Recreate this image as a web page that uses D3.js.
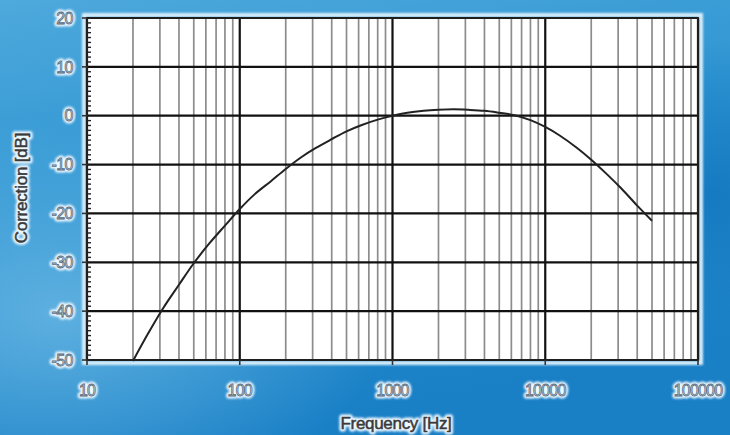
<!DOCTYPE html>
<html>
<head>
<meta charset="utf-8">
<style>
  body { margin: 0; background: #2b91cf; }
  svg { display: block; }
</style>
</head>
<body>
<div id="chart"></div>
<script src="https://cdn.jsdelivr.net/npm/d3@7"></script>
<script>
// frequency response
const freqs = [20, 25, 31.5, 40, 50, 63, 80, 100, 125, 160, 200, 250, 315, 400, 500, 630, 800,
  1000, 1250, 1600, 2000, 2500, 3150, 4000, 5000, 6300, 8000, 10000, 12500, 16000, 20000,
  25000, 31500, 40000, 50000];
const correction = [-50.2, -44.7, -39.4, -34.6, -30.2, -26.2, -22.5, -19.1, -16.1, -13.4, -10.9,
  -8.6, -6.6, -4.8, -3.2, -1.9, -0.8, 0, 0.6, 1.0, 1.2, 1.3, 1.2, 1.0, 0.6, 0.1, -0.9, -2.3,
  -4.1, -6.5, -9.0, -11.8, -14.9, -18.4, -21.5];
const yTicks = [20, 10, 0, -10, -20, -30, -40, -50];
const xTicks = [10, 100, 1000, 10000, 100000];

const W = 730, H = 435;
const pL = 87, pR = 698, pT = 18, pB = 360;

const svg = d3.select("#chart").append("svg")
  .attr("width", W)
  .attr("height", H);

const defs = svg.append("defs");
const bg = defs.append("linearGradient").attr("id", "bg")
  .attr("x1", 0).attr("y1", 0).attr("x2", 0.3).attr("y2", 1);
bg.append("stop").attr("offset", "0%").attr("stop-color", "#4ea9dc");
bg.append("stop").attr("offset", "45%").attr("stop-color", "#2f95d2");
bg.append("stop").attr("offset", "100%").attr("stop-color", "#1a80c6");
const spot = defs.append("radialGradient").attr("id", "spot")
  .attr("cx", 0.08).attr("cy", 0.72).attr("r", 0.45);
spot.append("stop").attr("offset", "0%").attr("stop-color", "#70bce6").attr("stop-opacity", 0.75);
spot.append("stop").attr("offset", "100%").attr("stop-color", "#70bce6").attr("stop-opacity", 0);
const spot2 = defs.append("radialGradient").attr("id", "spot2")
  .attr("cx", 0.97).attr("cy", 0.45).attr("r", 0.35);
spot2.append("stop").attr("offset", "0%").attr("stop-color", "#1377bf").attr("stop-opacity", 0.85);
spot2.append("stop").attr("offset", "100%").attr("stop-color", "#1377bf").attr("stop-opacity", 0);

const glow = defs.append("filter").attr("id", "glow")
  .attr("x", "-20%").attr("y", "-30%").attr("width", "140%").attr("height", "160%");
glow.append("feGaussianBlur").attr("stdDeviation", 1.3);

svg.append("rect").attr("width", W).attr("height", H).attr("fill", "url(#bg)");
svg.append("rect").attr("width", W).attr("height", H).attr("fill", "url(#spot)");
svg.append("rect").attr("width", W).attr("height", H).attr("fill", "url(#spot2)");

const x = d3.scaleLog().domain([10, 100000]).range([pL, pR]);
const y = d3.scaleLinear().domain([-50, 20]).range([pB, pT]);

// light halo round the plot
svg.append("rect")
  .attr("x", pL - 3).attr("y", pT - 3)
  .attr("width", pR - pL + 6).attr("height", pB - pT + 6)
  .attr("fill", "none").attr("stroke", "#d8eefa").attr("stroke-width", 4)
  .attr("filter", "url(#glow)");

svg.append("rect")
  .attr("x", pL).attr("y", pT)
  .attr("width", pR - pL).attr("height", pB - pT)
  .attr("fill", "#fff");

// minor vertical grid
const minor = x.ticks().filter(d => !xTicks.includes(d));
svg.append("g").selectAll("line")
  .data(minor)
  .join("line")
  .attr("x1", d => x(d)).attr("x2", d => x(d))
  .attr("y1", pT).attr("y2", pB)
  .attr("stroke", "#8c8c8c")
  .attr("stroke-width", 1.7);

// major grid
svg.append("g").selectAll("line")
  .data(xTicks)
  .join("line")
  .attr("x1", d => x(d)).attr("x2", d => x(d))
  .attr("y1", pT).attr("y2", pB)
  .attr("stroke", "#111")
  .attr("stroke-width", 2.2);

svg.append("g").selectAll("line")
  .data(yTicks)
  .join("line")
  .attr("x1", pL).attr("x2", pR)
  .attr("y1", d => y(d)).attr("y2", d => y(d))
  .attr("stroke", "#111")
  .attr("stroke-width", 2.2);

// small ticks along the left edge, every dB
svg.append("g").selectAll("line")
  .data(d3.range(-50, 21, 1).filter(d => d % 10 !== 0))
  .join("line")
  .attr("x1", pL).attr("x2", pL + 4)
  .attr("y1", d => y(d)).attr("y2", d => y(d))
  .attr("stroke", "#222")
  .attr("stroke-width", 1.4);

svg.append("rect")
  .attr("x", pL).attr("y", pT)
  .attr("width", pR - pL).attr("height", pB - pT)
  .attr("fill", "none").attr("stroke", "#222").attr("stroke-width", 1.8);

// outer ticks
svg.append("g").selectAll("line")
  .data(yTicks)
  .join("line")
  .attr("x1", pL - 5).attr("x2", pL)
  .attr("y1", d => y(d)).attr("y2", d => y(d))
  .attr("stroke", "#333").attr("stroke-width", 1.6);
svg.append("g").selectAll("line")
  .data(xTicks)
  .join("line")
  .attr("x1", d => x(d)).attr("x2", d => x(d))
  .attr("y1", pB).attr("y2", pB + 5)
  .attr("stroke", "#333").attr("stroke-width", 1.6);

// curve
const line = d3.line()
  .x((d, i) => x(freqs[i]))
  .y(d => y(d))
  .curve(d3.curveCatmullRom.alpha(0.5));
svg.append("path")
  .datum(correction)
  .attr("d", line)
  .attr("fill", "none")
  .attr("stroke", "#222")
  .attr("stroke-width", 2);

// text with a light halo
function haloText(sel, fill, edge, w) {
  sel.clone(true).lower()
    .attr("fill", "#eef8ff").attr("stroke", "#eef8ff").attr("stroke-width", 5)
    .attr("stroke-linejoin", "round").attr("filter", "url(#glow)");
  sel.attr("fill", fill).attr("stroke", edge).attr("stroke-width", w);
}

const font = "Liberation Sans, Arial, sans-serif";

const yl = svg.append("g");
yTicks.forEach(v => {
  const t = yl.append("text")
    .attr("x", pL - 14).attr("y", y(v))
    .attr("dy", "0.36em")
    .attr("text-anchor", "end")
    .attr("font-family", font).attr("font-size", 16)
    .attr("letter-spacing", -0.5)
    .text(v);
  haloText(t, "#e4f3fc", "#56687a", 0.8);
});

const xl = svg.append("g");
xTicks.forEach(v => {
  const t = xl.append("text")
    .attr("x", x(v)).attr("y", pB + 36)
    .attr("text-anchor", "middle")
    .attr("font-family", font).attr("font-size", 16)
    .attr("letter-spacing", -0.8)
    .text(v);
  haloText(t, "#e4f3fc", "#56687a", 0.8);
});

const tl = svg.append("g");
const xt = tl.append("text")
  .attr("x", 396).attr("y", 429)
  .attr("text-anchor", "middle")
  .attr("font-family", font).attr("font-size", 17)
  .attr("letter-spacing", -0.3)
  .text("Frequency [Hz]");
haloText(xt, "#3a3a3a", "#3a3a3a", 0.5);

const yt = tl.append("text")
  .attr("transform", "translate(27,188) rotate(-90)")
  .attr("text-anchor", "middle")
  .attr("font-family", font).attr("font-size", 17)
  .attr("letter-spacing", -0.2)
  .text("Correction [dB]");
haloText(yt, "#3a3a3a", "#3a3a3a", 0.5);
</script>
</body>
</html>
